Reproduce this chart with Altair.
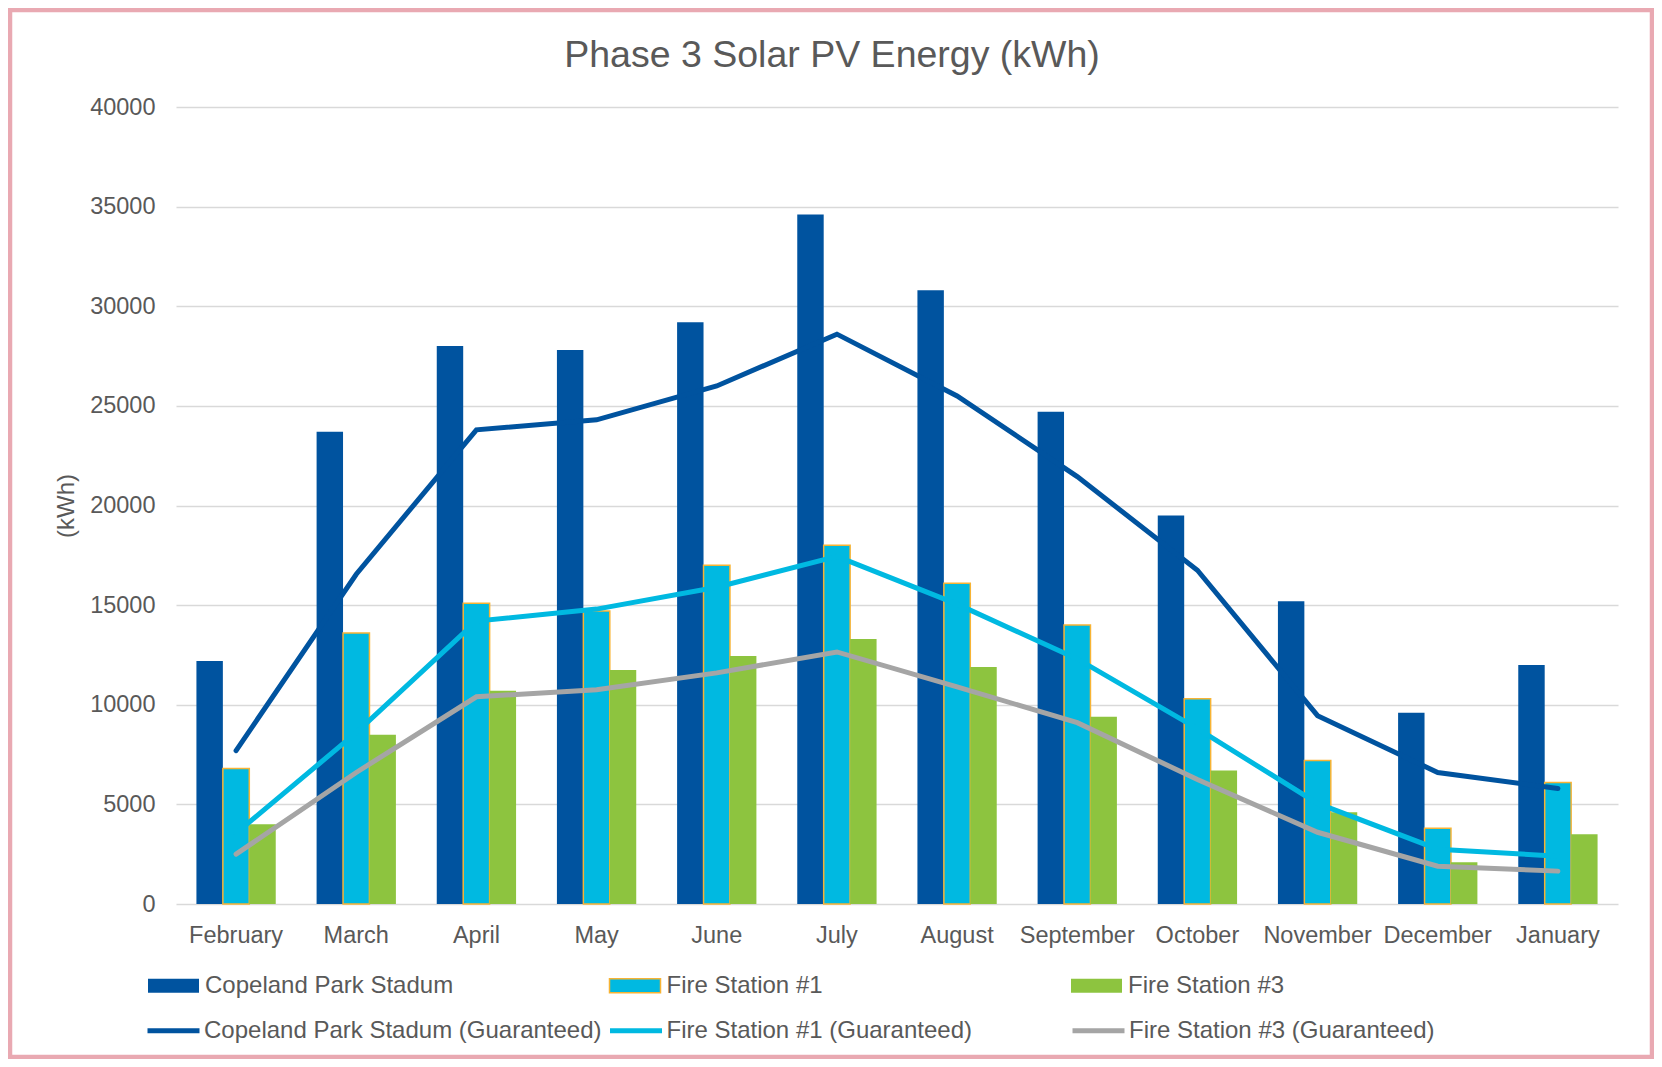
import altair as alt
import pandas as pd

months = ["February", "March", "April", "May", "June", "July", "August",
          "September", "October", "November", "December", "January"]
bar_series = ["Copeland Park Stadum", "Fire Station #1", "Fire Station #3"]
line_series = ["Copeland Park Stadum (Guaranteed)", "Fire Station #1 (Guaranteed)",
               "Fire Station #3 (Guaranteed)"]

copeland = [12200, 23700, 28000, 27800, 29200, 34600, 30800, 24700, 19500, 15200, 9600, 12000]
fs1 = [6800, 13600, 15100, 14700, 17000, 18000, 16100, 14000, 10300, 7200, 3800, 6100]
fs3 = [4000, 8500, 10700, 11750, 12450, 13300, 11900, 9400, 6700, 4600, 2100, 3500]
copeland_g = [7700, 16550, 23800, 24300, 26000, 28600, 25500, 21450, 16750, 9450, 6600, 5800]
fs1_g = [3550, 8600, 14200, 14800, 15900, 17450, 15050, 12300, 8800, 5050, 2750, 2400]
fs3_g = [2500, 6600, 10400, 10750, 11600, 12650, 10900, 9100, 6250, 3600, 1900, 1650]
y_ticks = [0, 5000, 10000, 15000, 20000, 25000, 30000, 35000, 40000]

bar_colors = ["#00539F", "#00B9E1", "#8DC43F"]
bar_strokes = ["transparent", "#F7B334", "transparent"]
line_colors = ["#00539F", "#00B9E1", "#A5A5A5"]
TEXT = "#595959"
FONT = "Liberation Sans"

bar_rows = []
for name, vals in zip(bar_series, [copeland, fs1, fs3]):
    for m, v in zip(months, vals):
        bar_rows.append({"month": m, "series": name, "value": v})
bars_df = pd.DataFrame(bar_rows)

line_rows = []
for name, vals in zip(line_series, [copeland_g, fs1_g, fs3_g]):
    for m, v in zip(months, vals):
        line_rows.append({"month": m, "series": name, "value": v})
lines_df = pd.DataFrame(line_rows)

x_enc = alt.X("month:N", sort=months,
              scale=alt.Scale(domain=months, paddingInner=0.34, paddingOuter=0.17),
              axis=alt.Axis(title=None, labelAngle=0, labelFontSize=23.5, labelColor=TEXT,
                            labelPadding=19, ticks=False, tickSize=0, domain=False,
                            grid=False))
y_enc = alt.Y("value:Q",
              scale=alt.Scale(domain=[0, 40000], nice=False),
              axis=alt.Axis(values=y_ticks, format="d", title="(kWh)",
                            titleFontSize=24, titleFontWeight="normal", titleColor=TEXT,
                            titleX=-110, titleY=398.5, titleAngle=270,
                            titleAlign="center", titleBaseline="middle",
                            labelFontSize=23.5, labelColor=TEXT, labelPadding=21,
                            ticks=False, tickSize=0, domain=False, grid=True,
                            gridColor="#D9D9D9", gridWidth=1.5))

bar_legend = alt.Legend(title=None, orient="none", legendX=-29, legendY=852,
                        direction="horizontal", columns=3, gridAlign="all",
                        columnPadding=152.5, padding=0,
                        symbolType="M-1,-0.27H1V0.27H-1Z", symbolSize=2601,
                        symbolStrokeWidth=1.5, labelFontSize=24, labelColor=TEXT,
                        labelOffset=5, labelLimit=700, labelFont=FONT)
line_legend = alt.Legend(title=None, orient="none", legendX=-31, legendY=895,
                         direction="horizontal", columns=3, gridAlign="all",
                         columnPadding=-2.5, padding=0,
                         symbolType="stroke", symbolSize=2704, symbolStrokeWidth=5,
                         labelFontSize=24, labelColor=TEXT, labelOffset=2,
                         labelLimit=700, labelFont=FONT)

bars = alt.Chart(bars_df).mark_bar(strokeWidth=1.5).encode(
    x=x_enc,
    y=y_enc,
    xOffset=alt.XOffset("series:N", scale=alt.Scale(domain=bar_series, paddingInner=0,
                                                      paddingOuter=0)),
    fill=alt.Fill("series:N", scale=alt.Scale(domain=bar_series, range=bar_colors),
                  legend=bar_legend),
    stroke=alt.Stroke("series:N", scale=alt.Scale(domain=bar_series, range=bar_strokes),
                      legend=bar_legend),
)

lines = alt.Chart(lines_df).mark_line(strokeWidth=5, strokeCap="round").encode(
    x=x_enc,
    y=y_enc,
    color=alt.Color("series:N", scale=alt.Scale(domain=line_series, range=line_colors),
                    legend=line_legend),
)

frame = alt.Chart(pd.DataFrame({"f": [0]})).mark_rect(
    fill="transparent", stroke="#E9A9B2", strokeWidth=4.5
).encode(
    x=alt.value(-166), x2=alt.value(1476), y=alt.value(-97), y2=alt.value(950)
)

chart = alt.layer(bars, lines, frame).properties(
    width=1442, height=797,
    title=alt.TitleParams(text="Phase 3 Solar PV Energy (kWh)", fontSize=37.5,
                          color=TEXT, font=FONT, fontWeight="normal",
                          anchor="middle", dx=-65, baseline="alphabetic", offset=-97),
    autosize=alt.AutoSizeParams(type="none"),
    padding={"left": 168, "top": 99, "right": 36, "bottom": 155},
    background="white",
).configure(font=FONT).configure_view(stroke="transparent")

chart.save("out.html", embed_options={"renderer": "svg", "actions": False})
